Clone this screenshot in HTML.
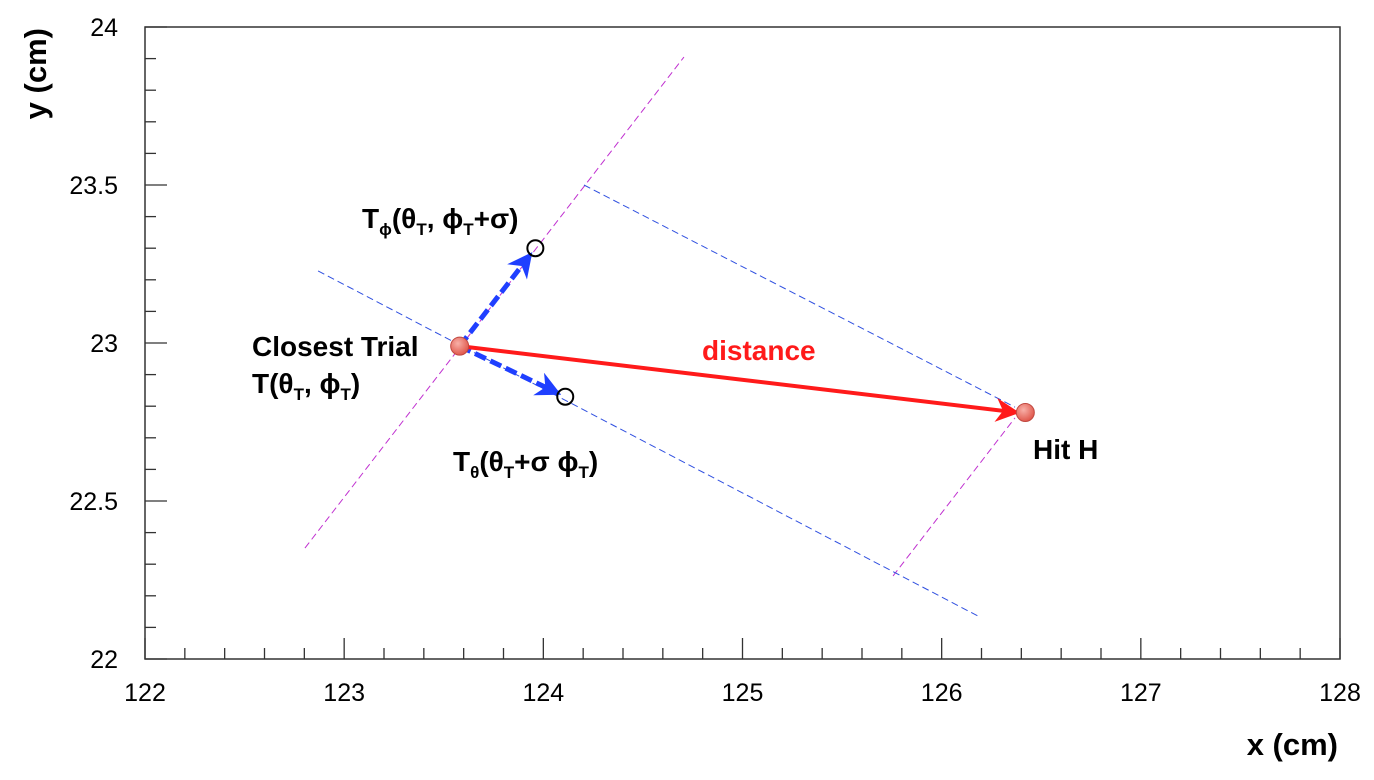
<!DOCTYPE html>
<html><head><meta charset="utf-8"><style>
body{margin:0;background:#fff}
svg text{font-family:"Liberation Sans",sans-serif}
</style></head><body>
<svg id="c" width="1374" height="775" xmlns="http://www.w3.org/2000/svg">
<defs>
<marker id="ab" viewBox="0 0 10 10" refX="9" refY="5" markerWidth="5" markerHeight="5" orient="auto" markerUnits="strokeWidth"><path d="M0,0 L10,5 L0,10 L3,5 z" fill="#1f3fff"/></marker>
<marker id="ar" viewBox="0 0 10 10" refX="9" refY="5" markerWidth="6" markerHeight="6" orient="auto" markerUnits="strokeWidth"><path d="M0,0 L10,5 L0,10 L3,5 z" fill="#ff1a1a"/></marker>
<radialGradient id="pg" cx="40%" cy="35%" r="65%"><stop offset="0" stop-color="#f8b0a8"/><stop offset="1" stop-color="#e0584c"/></radialGradient>
</defs>
<g id="axes"></g>
<g id="marks"></g>
</svg>
<script>
const xTicks=[122,123,124,125,126,127,128];
const yTicks=[22,22.5,23,23.5,24];
const trial=[123.58,22.99];
const hit=[126.42,22.78];
const tPhi=[123.96,23.30];
const tTheta=[124.11,22.83];
const magentaLines=[[[122.803,22.351],[124.706,23.905]],[[125.756,22.263],[126.368,22.763]]];
const blueLines=[[[122.869,23.228],[126.182,22.136]],[[124.204,23.5],[126.368,22.797]]];
const L=145,R=1340,T=27,B=659;
const X=v=>L+(v-122)/6*(R-L);
const Y=v=>B-(v-22)/2*(B-T);
const NS="http://www.w3.org/2000/svg";
function mk(p,t,a){const e=document.createElementNS(NS,t);for(const k in a)e.setAttribute(k,a[k]);p.appendChild(e);return e;}
const ax=document.getElementById('axes'),mg=document.getElementById('marks');
const fr=mk(ax,'rect',{x:L,y:T,width:R-L,height:B-T,fill:'none',stroke:'#333','stroke-width':1.5});

for(let i=0;i<=30;i++){const v=122+i*0.2;const maj=i%5==0;
 const t=mk(ax,'line',{x1:X(v),x2:X(v),y1:B,y2:B-(maj?21:11),stroke:'#333','stroke-width':1.3});
 }
for(let i=0;i<=20;i++){const v=22+i*0.1;const maj=i%5==0;
 const t=mk(ax,'line',{x1:L,x2:L+(maj?22:11),y1:Y(v),y2:Y(v),stroke:'#333','stroke-width':1.3});
 }
xTicks.forEach(v=>{const t=mk(ax,'text',{x:X(v),y:701,'text-anchor':'middle','font-size':25});t.textContent=v;
 });
yTicks.forEach(v=>{const t=mk(ax,'text',{x:118,y:Y(v)+9,'text-anchor':'end','font-size':25});t.textContent=v;
 });
let t=mk(ax,'text',{x:1338,y:755,'text-anchor':'end','font-size':31,'font-weight':'bold'});t.textContent='x (cm)';

t=mk(ax,'text',{x:0,y:0,transform:'translate(46,28) rotate(-90)','text-anchor':'end','font-size':31,'font-weight':'bold'});t.textContent='y (cm)';

magentaLines.forEach(s=>{const e=mk(mg,'line',{x1:X(s[0][0]),y1:Y(s[0][1]),x2:X(s[1][0]),y2:Y(s[1][1]),stroke:'#c030d0','stroke-width':1,'stroke-dasharray':'7,4'});
 });
blueLines.forEach(s=>{const e=mk(mg,'line',{x1:X(s[0][0]),y1:Y(s[0][1]),x2:X(s[1][0]),y2:Y(s[1][1]),stroke:'#3050e0','stroke-width':1,'stroke-dasharray':'7,4'});
 });
[tPhi,tTheta].forEach(p=>{const e=mk(mg,'line',{x1:X(trial[0]),y1:Y(trial[1]),x2:X(p[0])-(X(p[0])-X(trial[0]))*0.06,y2:Y(p[1])-(Y(p[1])-Y(trial[1]))*0.06,stroke:'#1f3fff','stroke-width':5,'stroke-dasharray':'12,5','marker-end':'url(#ab)'});
 });
let e=mk(mg,'line',{x1:X(trial[0]),y1:Y(trial[1]),x2:X(hit[0])-8,y2:Y(hit[1]),stroke:'#ff1a1a','stroke-width':4,'marker-end':'url(#ar)'});

[tPhi,tTheta].forEach(p=>{const c=mk(mg,'circle',{cx:X(p[0]),cy:Y(p[1]),r:8,fill:'none',stroke:'#000','stroke-width':2});
 });
[trial,hit].forEach(p=>{const c=mk(mg,'circle',{cx:X(p[0]),cy:Y(p[1]),r:9,fill:'url(#pg)',stroke:'#c04840','stroke-width':1});
 });
function lab(x,y,html,name,col){const g=mk(mg,'text',{x:x,y:y,'font-size':28,'font-weight':'bold',fill:col||'#000'});g.innerHTML=html;
 }
lab(362,228,'T<tspan font-size="17" dy="7">ϕ</tspan><tspan dy="-7">(θ</tspan><tspan font-size="17" dy="7">T</tspan><tspan dy="-7">, ϕ</tspan><tspan font-size="17" dy="7">T</tspan><tspan dy="-7">+σ)</tspan>','t-phi-label');
lab(252,356,'Closest Trial','closest-trial-label');
lab(252,393,'T(θ<tspan font-size="17" dy="7">T</tspan><tspan dy="-7">, ϕ</tspan><tspan font-size="17" dy="7">T</tspan><tspan dy="-7">)</tspan>','closest-trial-coords');
lab(453,471,'T<tspan font-size="17" dy="7">θ</tspan><tspan dy="-7">(θ</tspan><tspan font-size="17" dy="7">T</tspan><tspan dy="-7">+σ ϕ</tspan><tspan font-size="17" dy="7">T</tspan><tspan dy="-7">)</tspan>','t-theta-label');
lab(702,360,'distance','distance-label','#ff1a1a');
lab(1033,459,'Hit H','hit-label');
</script>
</body></html>
